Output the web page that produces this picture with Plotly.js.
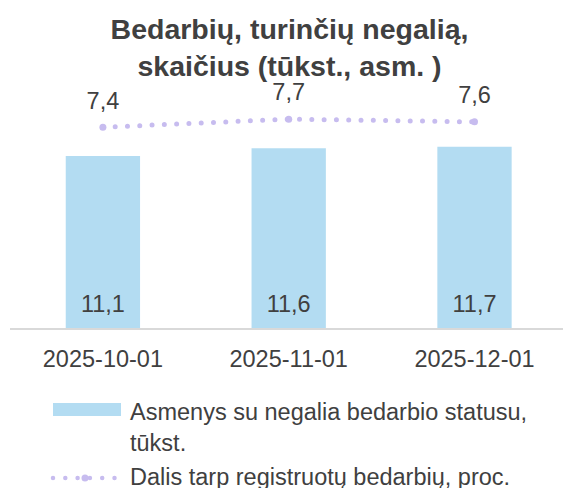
<!DOCTYPE html>
<html>
<head>
<meta charset="utf-8">
<script src="https://cdn.plot.ly/plotly-3.0.1.min.js"></script>
<style>
  html, body { margin: 0; padding: 0; background: #ffffff; }
  #chart { width: 563px; height: 488px; }
  .scatterlayer .js-line { stroke-linecap: round; }
  .shapelayer path { stroke-linecap: round; }
</style>
</head>
<body>
<div id="chart"></div>
<script>
// ---- data ----
const categories = ["2025-10-01", "2025-11-01", "2025-12-01"];
const barValues = [11.1, 11.6, 11.7];           // Asmenys su negalia bedarbio statusu, tūkst.
const lineValues = [7.4, 7.7, 7.6];             // Dalis tarp registruotų bedarbių, proc.
const barName = "Asmenys su negalia bedarbio statusu,<br>tūkst.";
const lineName = "Dalis tarp registruotų bedarbių, proc.";
const titleText = "<b>Bedarbių, turinčių negalią,<br>skaičius (tūkst., asm. )</b>";

// ---- styling ----
const W = 563, H = 488;
const FONT = "Liberation Sans, Arial, sans-serif";
const TXT = "#404040";
const BAR_COLOR = "#B3DCF2";
const LINE_COLOR = "#C7BCEF";
const FS = 23.5;

const plotL = 10, plotR = 563, plotT = 111, plotB = 328;
const px2x = px => (px - plotL) / (plotR - plotL);
const px2y = py => (plotB - py) / (plotB - plotT);
const catSpacing = 185.8;

const barTrace = {
  type: "bar",
  x: categories,
  y: barValues,
  name: barName,
  marker: { color: BAR_COLOR },
  width: 0.4,
  hoverinfo: "skip",
  showlegend: false
};

// bar value labels, sitting just above the base of each bar
const barLabelTrace = {
  type: "scatter",
  mode: "markers+text",
  x: categories,
  y: barValues.map(() => 0),
  text: barValues.map(v => v.toFixed(1).replace(".", ",")),
  textposition: "top center",
  textfont: { family: FONT, size: FS, color: TXT },
  marker: { size: 14, color: "rgba(0,0,0,0)" },
  cliponaxis: false,
  hoverinfo: "skip",
  showlegend: false
};

const lineTrace = {
  type: "scatter",
  mode: "lines+markers",
  x: categories,
  y: lineValues,
  yaxis: "y2",
  name: lineName,
  line: { color: LINE_COLOR, width: 5, dash: "0px,12.3px" },
  marker: { color: LINE_COLOR, size: 7 },
  cliponaxis: false,
  hoverinfo: "skip",
  showlegend: false
};

const lineLabelTrace = {
  type: "scatter",
  mode: "markers+text",
  x: categories,
  y: lineValues,
  yaxis: "y2",
  texttemplate: "%{y:.1f}",
  textposition: "top center",
  textfont: { family: FONT, size: FS, color: TXT },
  marker: { size: 19, color: "rgba(0,0,0,0)" },
  cliponaxis: false,
  hoverinfo: "skip",
  showlegend: false
};

const shapes = [
  // legend symbol: bar
  { type: "rect", xref: "paper", yref: "paper",
    x0: px2x(53), x1: px2x(121), y0: px2y(403), y1: px2y(416),
    fillcolor: BAR_COLOR, line: { width: 0 } },
  // legend symbol: dotted line
  { type: "line", xref: "paper", yref: "paper",
    x0: px2x(53), x1: px2x(117), y0: px2y(478), y1: px2y(478),
    line: { color: LINE_COLOR, width: 4.5, dash: "0px,12.3px" } },
  { type: "circle", xref: "paper", yref: "paper",
    x0: px2x(81.5), x1: px2x(88.5), y0: px2y(474.5), y1: px2y(481.5),
    fillcolor: LINE_COLOR, line: { width: 0 } }
];

const annotations = [
  { xref: "paper", yref: "paper", x: px2x(128), y: px2y(397), xanchor: "left", yanchor: "top",
    align: "left", showarrow: false, text: barName,
    font: { family: FONT, size: FS, color: TXT } },
  { xref: "paper", yref: "paper", x: px2x(128), y: px2y(462), xanchor: "left", yanchor: "top",
    align: "left", showarrow: false, text: lineName,
    font: { family: FONT, size: FS, color: TXT } }
];

const layout = {
  width: W, height: H,
  margin: { l: plotL, r: W - plotR, t: plotT, b: H - plotB, pad: 0 },
  paper_bgcolor: "#ffffff",
  plot_bgcolor: "#ffffff",
  separators: ", ",
  showlegend: false,
  font: { family: FONT, size: FS, color: TXT },
  title: {
    text: titleText,
    font: { family: FONT, size: 28.5, color: TXT },
    x: 289.5 / W, xref: "container", xanchor: "center",
    y: 1 - 39 / H, yref: "container", yanchor: "top"
  },
  xaxis: {
    type: "category",
    range: [-0.5, -0.5 + (plotR - plotL) / catSpacing],
    showgrid: false, zeroline: false,
    showline: true, linecolor: "#D9D9D9", linewidth: 1.5,
    ticks: "", ticklabelstandoff: 9,
    tickfont: { family: FONT, size: FS, color: TXT },
    fixedrange: true
  },
  yaxis: { range: [0, 14], visible: false, fixedrange: true },
  yaxis2: { range: [0, 8], overlaying: "y", side: "right", visible: false, fixedrange: true },
  shapes: shapes,
  annotations: annotations
};

Plotly.newPlot("chart", [barTrace, barLabelTrace, lineTrace, lineLabelTrace], layout, { displayModeBar: false, staticPlot: true });
</script>
</body>
</html>
